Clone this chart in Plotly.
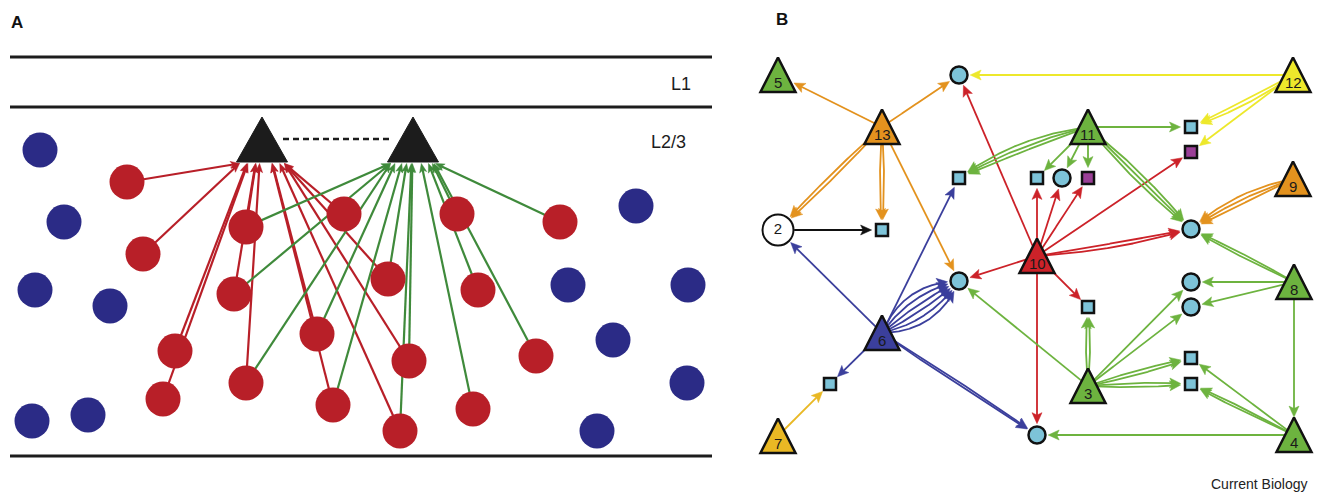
import numpy as np
import plotly.graph_objects as go

# ================= Panel A data =================
layer_y = [57, 107, 456]
layer_span = [10, 712]
layer_names = ["L1", "L2/3"]
layer_name_x = [681, 668]
layer_name_y = [84, 142]

pyr_x = [262, 413]
pyr_y = [140, 140]

inter_x = [40, 64, 35, 110, 32, 88, 636, 568, 688, 613, 687, 597]
inter_y = [150, 222, 290, 306, 421, 415, 206, 285, 285, 340, 383, 431]

exc_x = [127, 143, 246, 234, 344, 175, 163, 246, 317, 333, 457, 388, 478, 560, 409, 536, 473, 400]
exc_y = [182, 254, 227, 294, 214, 351, 399, 383, 334, 405, 214, 279, 290, 222, 361, 356, 409, 431]

to_left_pyr = [0, 1, 2, 3, 4, 5, 6, 7, 8, 9, 11, 14, 17]
to_right_pyr = [2, 3, 7, 8, 9, 10, 11, 12, 13, 14, 15, 16, 17]

# ================= Panel B data =================
node_id = ["2", "3", "4", "5", "6", "7", "8", "9", "10", "11", "12", "13",
           "cTop", "sA", "sB", "cB", "pB", "sC", "pC", "c2", "s2", "cMid",
           "s3", "c3a", "c3b", "s4a", "s4b", "s7", "cBot"]
node_x = [778, 1088, 1294, 778, 882, 778, 1294, 1293, 1037, 1088, 1293, 882,
          959, 959, 1037, 1062, 1088, 1191, 1191, 1191, 882, 959,
          1088, 1191, 1191, 1191, 1191, 830, 1037]
node_y = [230, 386, 435, 75, 333, 436, 282, 179, 256, 127, 75, 127,
          75, 178, 178, 178, 178, 127, 152, 229, 230, 281,
          307, 282, 307, 358, 384, 384, 435]
node_type = ["open", "tri", "tri", "tri", "tri", "tri", "tri", "tri", "tri", "tri", "tri", "tri",
             "circle", "square", "square", "circle", "square_p", "square", "square_p", "circle", "square", "circle",
             "square", "circle", "circle", "square", "square", "square", "circle"]
node_label = ["2", "3", "4", "5", "6", "7", "8", "9", "10", "11", "12", "13"] + [""] * 17

edge_src = ["13", "13", "13", "13", "13", "9", "12", "12", "12", "7", "2",
            "6", "6", "6", "6", "6",
            "10", "10", "10", "10", "10", "10", "10", "10", "10",
            "11", "11", "11", "11", "11", "11",
            "8", "8", "8", "8",
            "3", "3", "3", "3", "3", "3",
            "4", "4", "4"]
edge_dst = ["5", "cTop", "2", "s2", "cMid", "c2", "cTop", "sC", "pC", "s7", "s2",
            "2", "sA", "cMid", "s7", "cBot",
            "cTop", "sB", "cB", "pB", "pC", "c2", "cMid", "s3", "cBot",
            "sA", "sB", "cB", "pB", "sC", "c2",
            "c2", "c3a", "c3b", "4",
            "s3", "c3a", "c3b", "s4a", "s4b", "cMid",
            "s4a", "s4b", "cBot"]
edge_count = [1, 1, 2, 2, 1, 3, 1, 2, 1, 1, 1,
              1, 1, 6, 1, 2,
              1, 1, 1, 1, 1, 2, 1, 1, 1,
              3, 1, 1, 1, 1, 3,
              2, 1, 1, 1,
              2, 1, 1, 2, 2, 1,
              1, 2, 1]

# ================= styles =================
A_RED = "#B81F28"
A_BLUE = "#2B2B86"
A_GREEN = "#3F8A3B"
DARK = "#1c1c1c"
FONT = "Liberation Sans, Arial, sans-serif"

tri_fill = {"3": "#6DB33F", "4": "#6DB33F", "5": "#6DB33F", "8": "#6DB33F", "11": "#6DB33F",
            "6": "#3B3F9C", "7": "#E9B824", "9": "#E3921E", "13": "#E3921E",
            "10": "#CC2229", "12": "#EDE82B"}
edge_color_of = dict(tri_fill)
edge_color_of["2"] = "#111111"
LIGHT_BLUE = "#7DC3D8"
PURPLE = "#9B3F97"

bundle_step = {("6", "cMid"): 12, ("6", "cBot"): 6, ("4", "s4b"): 6, ("8", "c2"): 6}
bundle_bend = {("11", "sA"): 10, ("9", "c2"): 8, ("12", "sC"): -5, ("10", "c2"): 5}

fig = go.Figure()


def head(tip, u, L, w, notch):
    nrm = np.array([-u[1], u[0]])
    base = tip - u * L
    pts = [tip, base + nrm * w, base + u * L * notch, base - nrm * w, tip]
    return [p[0] for p in pts], [p[1] for p in pts]


# ================= Panel A =================
for y in layer_y:
    fig.add_trace(go.Scatter(x=layer_span, y=[y, y], mode="lines",
                             line=dict(color=DARK, width=3), hoverinfo="skip"))

TRI_UP, TRI_DOWN, TRI_HW = 23, 22, 25.5


def a_edges(indices, k, color):
    cx, cy = pyr_x[k], pyr_y[k]
    base_y = cy + TRI_DOWN + 1.5
    aim = np.array([cx, cy - 16.0])
    lx, ly, hx, hy = [], [], [], []
    for i in indices:
        s = np.array([exc_x[i], exc_y[i]], float)
        t = (s[1] - base_y) / (s[1] - aim[1])
        xc = s[0] + (aim[0] - s[0]) * t
        xc = min(max(xc, cx - TRI_HW + 3), cx + TRI_HW - 3)
        tip = np.array([xc, base_y])
        u = (tip - s) / np.linalg.norm(tip - s)
        L = 9
        e = tip - u * L * 0.7
        lx += [s[0], e[0], None]
        ly += [s[1], e[1], None]
        xs, ys = head(tip, u, L, 3.6, 0.25)
        hx += xs + [None]
        hy += ys + [None]
    fig.add_trace(go.Scatter(x=lx, y=ly, mode="lines", line=dict(color=color, width=2.2),
                             hoverinfo="skip"))
    fig.add_trace(go.Scatter(x=hx, y=hy, mode="lines", fill="toself", fillcolor=color,
                             line=dict(color=color, width=0.5), hoverinfo="skip"))


a_edges(to_left_pyr, 0, A_RED)
a_edges(to_right_pyr, 1, A_GREEN)

# dashed gap junction
fig.add_trace(go.Scatter(x=[pyr_x[0] + 21, pyr_x[1] - 20], y=[139, 139], mode="lines",
                         line=dict(color=DARK, width=2.5, dash="6px,4px"), hoverinfo="skip"))

for cx, cy in zip(pyr_x, pyr_y):
    fig.add_trace(go.Scatter(x=[cx, cx - TRI_HW, cx + TRI_HW, cx],
                             y=[cy - TRI_UP, cy + TRI_DOWN, cy + TRI_DOWN, cy - TRI_UP],
                             mode="lines", fill="toself", fillcolor=DARK,
                             line=dict(color=DARK, width=1), hoverinfo="skip"))

fig.add_trace(go.Scatter(x=inter_x, y=inter_y, mode="markers",
                         marker=dict(size=35, color=A_BLUE, line=dict(width=0)), hoverinfo="skip"))
fig.add_trace(go.Scatter(x=exc_x, y=exc_y, mode="markers",
                         marker=dict(size=35, color=A_RED, line=dict(width=0)), hoverinfo="skip"))

for name, x, y in zip(layer_names, layer_name_x, layer_name_y):
    fig.add_annotation(x=x, y=y, text=name, showarrow=False, xanchor="center", yanchor="middle",
                       font=dict(family=FONT, size=18, color=DARK))

# ================= Panel B =================
pos = {n: np.array([x, y], float) for n, x, y in zip(node_id, node_x, node_y)}
ntype = dict(zip(node_id, node_type))
radius_of = {"tri": 18, "open": 18, "circle": 11.5, "square": 10.5, "square_p": 10.5}
src_radius = {"tri": 6, "open": 16, "circle": 9, "square": 8, "square_p": 8}

lines_by_color = {}
heads_by_color = {}
for s, d, n in zip(edge_src, edge_dst, edge_count):
    col = edge_color_of[s]
    p0, p2 = pos[s], pos[d]
    dvec = p2 - p0
    dist = np.linalg.norm(dvec)
    perp = np.array([-dvec[1], dvec[0]]) / dist
    step = bundle_step.get((s, d), 8)
    bend = bundle_bend.get((s, d), 0)
    rs = src_radius[ntype[s]]
    rd = radius_of[ntype[d]]
    L, w = 11, 5
    lx, ly = lines_by_color.setdefault(col, ([], []))
    hx, hy = heads_by_color.setdefault(col, ([], []))
    for k in range(n):
        off = bend + (k - (n - 1) / 2.0) * step
        c = (p0 + p2) / 2 + perp * off
        t = np.linspace(0, 1, 600)[:, None]
        P = (1 - t) ** 2 * p0 + 2 * (1 - t) * t * c + t ** 2 * p2
        ds = np.hypot(*(P - p0).T)
        dd = np.hypot(*(P - p2).T)
        i0 = int(np.argmax(ds >= rs))
        itip = int(np.argmax(dd <= rd))
        tip = P[itip]
        back = P[max(itip - 12, 0)]
        u = (tip - back) / np.linalg.norm(tip - back)
        ib = int(np.argmax(dd <= rd + L * 0.7))
        seg = P[i0:ib + 1]
        lx += list(seg[:, 0]) + [None]
        ly += list(seg[:, 1]) + [None]
        xs, ys = head(tip, u, L, w, 0.22)
        hx += xs + [None]
        hy += ys + [None]

for col, (lx, ly) in lines_by_color.items():
    fig.add_trace(go.Scatter(x=lx, y=ly, mode="lines",
                             line=dict(color=col, width=1.8), hoverinfo="skip"))
for col, (hx, hy) in heads_by_color.items():
    fig.add_trace(go.Scatter(x=hx, y=hy, mode="lines", fill="toself", fillcolor=col,
                             line=dict(color=col, width=0.5), hoverinfo="skip"))

# nodes
for n, x, y, tp, lab in zip(node_id, node_x, node_y, node_type, node_label):
    if tp == "tri":
        fig.add_trace(go.Scatter(x=[x, x - 17.5, x + 17.5, x], y=[y - 17.5, y + 17, y + 17, y - 17.5],
                                 mode="lines", fill="toself", fillcolor=tri_fill[n],
                                 line=dict(color="#111111", width=2.5), hoverinfo="skip"))
        fig.add_annotation(x=x, y=y + 7, text=lab, showarrow=False, xanchor="center", yanchor="middle",
                           font=dict(family=FONT, size=15, color="#1a1a1a"))

circ = [i for i, t in enumerate(node_type) if t == "circle"]
fig.add_trace(go.Scatter(x=[node_x[i] for i in circ], y=[node_y[i] for i in circ], mode="markers",
                         marker=dict(size=17, color=LIGHT_BLUE, line=dict(color="#111111", width=2.5)),
                         hoverinfo="skip"))
sq = [i for i, t in enumerate(node_type) if t == "square"]
fig.add_trace(go.Scatter(x=[node_x[i] for i in sq], y=[node_y[i] for i in sq], mode="markers",
                         marker=dict(size=12, symbol="square", color=LIGHT_BLUE,
                                     line=dict(color="#111111", width=2.5)), hoverinfo="skip"))
sqp = [i for i, t in enumerate(node_type) if t == "square_p"]
fig.add_trace(go.Scatter(x=[node_x[i] for i in sqp], y=[node_y[i] for i in sqp], mode="markers",
                         marker=dict(size=12, symbol="square", color=PURPLE,
                                     line=dict(color="#111111", width=2.5)), hoverinfo="skip"))
op = [i for i, t in enumerate(node_type) if t == "open"]
fig.add_trace(go.Scatter(x=[node_x[i] for i in op], y=[node_y[i] for i in op], mode="markers+text",
                         text=[node_label[i] for i in op], textposition="middle center",
                         textfont=dict(family=FONT, size=15, color="#1a1a1a"),
                         marker=dict(size=31, color="white", line=dict(color="#111111", width=2)),
                         hoverinfo="skip"))

# panel letters and credit
fig.add_annotation(x=17, y=22, text="<b>A</b>", showarrow=False, xanchor="center", yanchor="middle",
                   font=dict(family=FONT, size=17, color="#111111"))
fig.add_annotation(x=782, y=19, text="<b>B</b>", showarrow=False, xanchor="center", yanchor="middle",
                   font=dict(family=FONT, size=17, color="#111111"))
fig.add_annotation(x=1310, y=484, text="Current Biology", showarrow=False, xanchor="right", yanchor="middle",
                   font=dict(family=FONT, size=14, color="#222222"))

fig.update_layout(
    width=1320, height=494, margin=dict(l=0, r=0, t=0, b=0),
    paper_bgcolor="white", plot_bgcolor="white", showlegend=False,
    xaxis=dict(range=[0, 1320], visible=False, fixedrange=True),
    yaxis=dict(range=[494, 0], visible=False, fixedrange=True),
)

fig.write_html("out.html", config={"displayModeBar": False},
               post_script="document.body.style.margin='0';")
